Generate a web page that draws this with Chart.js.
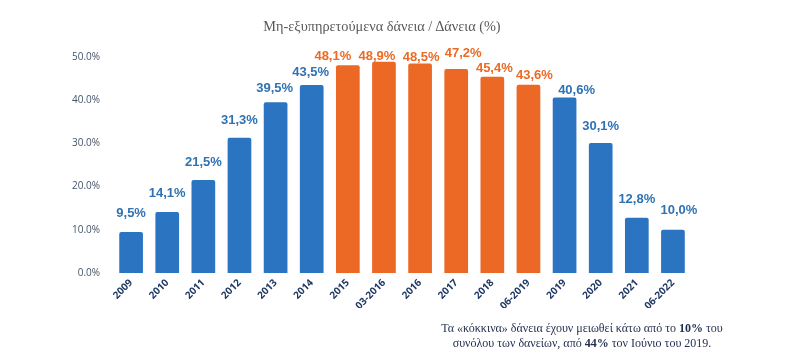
<!DOCTYPE html>
<html>
<head>
<meta charset="utf-8">
<script src="https://cdn.jsdelivr.net/npm/chart.js@4"></script>
<style>
  html, body { margin: 0; padding: 0; background: #fff; }
  #wrap { position: relative; width: 787px; height: 353px; }
  #title {
    position: absolute; left: 232px; top: 18px; width: 300px; text-align: center;
    font: 14.3px "Liberation Serif", "DejaVu Serif", serif; color: #595959; white-space: nowrap;
  }
  #note {
    position: absolute; left: 422px; top: 321px; width: 320px; text-align: center;
    font: 12px/15px "Liberation Serif", "DejaVu Serif", serif; color: #1f2d4f;
  }
</style>
</head>
<body>
<div id="wrap">
  <canvas id="chart" width="787" height="353"></canvas>
  <div id="title">Μη-εξυπηρετούμενα δάνεια / Δάνεια (%)</div>
  <div id="note">Τα «κόκκινα» δάνεια έχουν μειωθεί κάτω από το <b>10%</b> του<br>συνόλου των δανείων, από <b>44%</b> τον Ιούνιο του 2019.</div>
</div>
<script>
const periods = ['2009', '2010', '2011', '2012', '2013', '2014', '2015', '03-2016',
    '2016', '2017', '2018', '06-2019', '2019', '2020', '2021', '06-2022']
const nplRatio = [9.5, 14.1, 21.5, 31.3, 39.5, 43.5, 48.1, 48.9,
    48.5, 47.2, 45.4, 43.6, 40.6, 30.1, 12.8, 10.0]
const redPeriods = ['2015', '03-2016', '2016', '2017', '2018', '06-2019']
const yTicks = [0, 10, 20, 30, 40, 50]

// hand placed label nudges in the original (px, relative to the bar top)
const labelDx = [0, 0, 0, 0, -1, -1, -15, -7, 1, 7, 2, 6, 12, 0, 0, 6]
const labelGap = [15, 15, 14, 14, 10, 9, 5, 2, 2, 12, 5, 6, 4, 13, 15, 16]

const blue = '#2b74c2'
const orange = '#eb6825'
const blueText = '#2f72b3'
const orangeText = '#ec6a24'

function isRed(i) {
    return redPeriods.indexOf(periods[i]) >= 0
}

// value labels over each bar, "48,1%" style
const valueLabels = {
    id: 'valueLabels',
    afterDatasetsDraw(chart) {
        const ctx = chart.ctx
        const meta = chart.getDatasetMeta(0)
        ctx.save()
        ctx.font = 'bold 13px "Liberation Sans", Arial, sans-serif'
        ctx.textAlign = 'center'
        ctx.textBaseline = 'alphabetic'
        meta.data.forEach(function(bar, i) {
            ctx.fillStyle = isRed(i) ? orangeText : blueText
            let txt = nplRatio[i].toFixed(1).replace('.', ',') + '%'
            ctx.fillText(txt, bar.x + labelDx[i], bar.y - labelGap[i])
        })
        ctx.restore()
    }
}

const ctx = document.getElementById('chart').getContext('2d')
new Chart(ctx, {
    type: 'bar',
    data: {
        labels: periods,
        datasets: [{
            data: nplRatio,
            backgroundColor: nplRatio.map(function(v, i) { return isRed(i) ? orange : blue }),
            borderRadius: 2,
            borderSkipped: 'bottom',
            barPercentage: 0.81,
            categoryPercentage: 0.81
        }]
    },
    options: {
        responsive: false,
        animation: false,
        layout: { padding: { left: 67, right: 96, top: 57, bottom: 45 } },
        plugins: {
            legend: { display: false },
            tooltip: { enabled: false }
        },
        scales: {
            x: {
                grid: { display: false },
                border: { display: false },
                ticks: {
                    minRotation: 45,
                    maxRotation: 45,
                    padding: -4,
                    color: '#1f3864',
                    font: { family: '"Open Sans", "Liberation Sans", sans-serif', size: 10, weight: 'bold' }
                }
            },
            y: {
                min: 0,
                max: 50,
                afterBuildTicks: function(axis) {
                    axis.ticks = yTicks.map(function(v) { return { value: v } })
                },
                grid: { display: false },
                border: { display: false },
                ticks: {
                    padding: 5,
                    color: '#44546a',
                    font: { family: '"Open Sans", "Liberation Sans", sans-serif', size: 10 },
                    callback: function(v) { return v.toFixed(1) + '%' }
                }
            }
        }
    },
    plugins: [valueLabels]
})
</script>
</body>
</html>
